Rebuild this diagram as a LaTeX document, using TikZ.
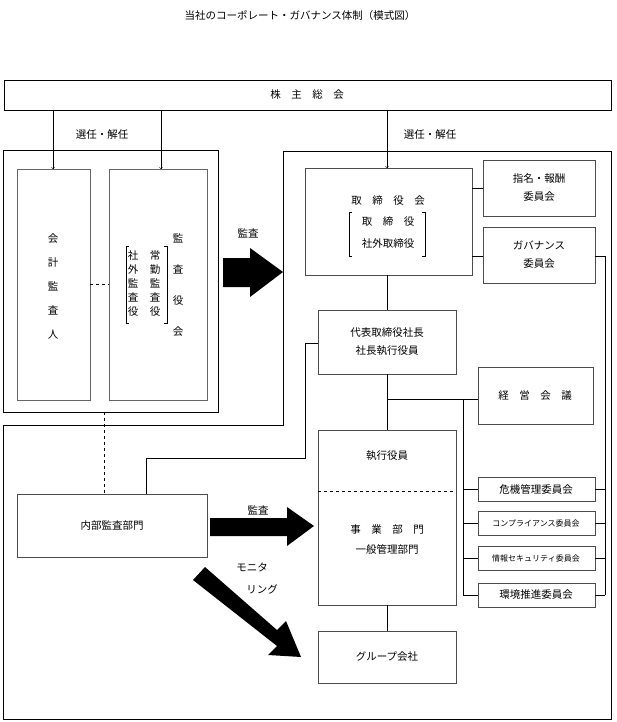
\documentclass[tikz,border=0pt]{standalone}
\usepackage{fontspec}
\newfontfamily\jp{Noto Sans CJK JP}
\tikzset{
  box/.style={draw=black!70, minimum width=#1},
  lbl/.style={font=\jp\fontsize{10.5}{12}\selectfont, inner sep=0pt},
  vtxt/.style={font=\jp\fontsize{10.5}{12}\selectfont, inner sep=0pt, align=center},
  link/.style={draw=black!80},
}
\begin{document}
\begin{tikzpicture}[x=1pt,y=-1pt]
  \useasboundingbox (0,0) rectangle (617,722);
  \node[lbl] (title) at (300,16) {当社のコーポレート・ガバナンス体制（模式図）};

  % frames
  \draw[thick] (3,150) rectangle (218,412);
  \draw[thick] (283,151) -- (611,151) -- (611,719) -- (3,719) -- (3,425) -- (283,425) -- cycle;

  % boxes
  \draw (4,80) rectangle (611,110);
  \node[lbl] (soukai) at (307,95) {株　主　総　会};
  \draw[black!60] (17,169) rectangle (90,400);
  \draw[black!60] (109,169) rectangle (207,400);
  \coordinate (kaikei) at (53,169);
  \coordinate (kansa) at (161,169);
  \node[vtxt] (kaikeitxt) at (53,286) {会\\[12pt]計\\[12pt]監\\[12pt]査\\[12pt]人};
  \node[vtxt] (kansatxt) at (178,285) {監\\[19pt]査\\[19pt]役\\[19pt]会};
  \node[vtxt] (joukin) at (155,284) {常\\[2pt]勤\\[2pt]監\\[2pt]査\\[2pt]役};
  \node[vtxt] (shagai) at (133,284) {社\\[2pt]外\\[2pt]監\\[2pt]査\\[2pt]役};
  \draw (129,246) -- (126,246) -- (126,323) -- (129,323);
  \draw (164,246) -- (167,246) -- (167,323) -- (164,323);
  \draw[dashed] (90,284) -- (109,284);

  \draw[black!70] (305,168) rectangle (472,275);
  \node[lbl] (torishimari) at (388,201) {取　締　役　会};
  \node[lbl] (tori2) at (388,222) {取　締　役};
  \node[lbl] (tori3) at (388,244) {社外取締役};
  \draw (352,212) -- (349,212) -- (349,256) -- (352,256);
  \draw (422,212) -- (425,212) -- (425,256) -- (422,256);

  \draw[black!70] (483,160) rectangle (595,216);
  \node[vtxt] (shimei) at (539,188) {指名・報酬\\[6pt]委員会};
  \draw[black!70] (483,227) rectangle (595,283);
  \node[vtxt] (gov) at (539,255) {ガバナンス\\[6pt]委員会};

  \draw[black!70] (318,310) rectangle (456,374);
  \node[vtxt] (daihyo) at (387,342) {代表取締役社長\\[6pt]社長執行役員};
  \draw[black!70] (478,367) rectangle (593,424);
  \node[lbl] (keiei) at (535,396) {経　営　会　議};

  \draw[black!70] (318,430) rectangle (456,605);
  \draw[dashed] (318,491) -- (456,491);
  \node[lbl] (shikko) at (387,456) {執行役員};
  \node[vtxt] (jigyo) at (387,540) {事　業　部　門\\[8pt]一般管理部門};
  \draw[black!70] (318,631) rectangle (456,683);
  \node[lbl] (group) at (387,657) {グループ会社};

  \draw[black!70] (17,494) rectangle (207,557);
  \node[lbl] (naibu) at (112,526) {内部監査部門};

  % committees
  \foreach \y/\t/\s in {489/危機管理委員会/10.5, 523/コンプライアンス委員会/8, 558/情報セキュリティ委員会/8, 595/環境推進委員会/10.5}{
    \draw[black!70] (478,\y-12) rectangle (595,\y+12);
    \node[font=\jp\fontsize{\s}{12}\selectfont, inner sep=0pt] at (536,\y) {\t};
    \draw (463,\y) -- (478,\y);
    \draw (595,\y) -- (605,\y);
  }

  % links
  \draw[->] (53,110) -- (kaikei);
  \draw[->] (161,110) -- (kansa);
  \node[lbl] (sennin1) at (102,135) {選任・解任};
  \draw[->] (387,110) -- (387,168);
  \node[lbl] (sennin2) at (430,135) {選任・解任};
  \draw (472,188) -- (483,188);
  \draw (472,256) -- (483,256);
  \draw (595,256) -- (605,256) -- (605,595);
  \draw (463,399) -- (463,595);
  \draw (387,275) -- (387,310);
  \draw (387,374) -- (387,430);
  \draw (387,399) -- (478,399);
  \draw (387,605) -- (387,631);
  \draw (318,343) -- (305,343) -- (305,458) -- (146,458) -- (146,494);
  \draw[dashed] (104,412) -- (104,494);

  % big arrows
  \fill (223,258) -- (250,258) -- (250,248) -- (283,272) -- (250,297) -- (250,287) -- (223,287) -- cycle;
  \node[lbl] (kansa1) at (248,233) {監査};
  \fill (210,518) -- (287,518) -- (287,507) -- (314,526) -- (287,546) -- (287,536) -- (210,536) -- cycle;
  \node[lbl] (kansa2) at (258,510) {監査};
  \fill (193,580) -- (205,567) -- (277,630) -- (286,621) -- (301,657) -- (268,655) -- (277,646) -- cycle;
  \node[lbl] (moni) at (252,567) {モニタ};
  \node[lbl] (ring) at (262,589) {リング};
\end{tikzpicture}
\end{document}
